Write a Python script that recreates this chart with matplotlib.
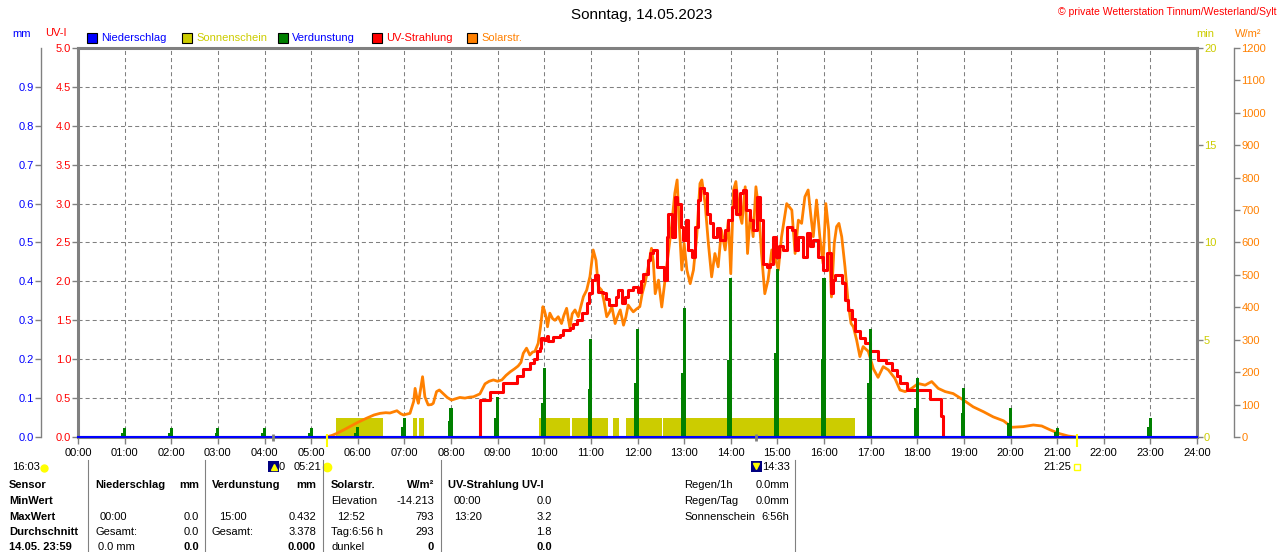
import numpy as np
import matplotlib
matplotlib.use('Agg')
import matplotlib.pyplot as plt
from matplotlib.lines import Line2D
from matplotlib.patches import Rectangle
from matplotlib.ticker import FormatStrFormatter

plt.rcParams['font.family'] = ['Liberation Sans', 'DejaVu Sans']
plt.rcParams['font.size'] = 8

# Solarstrahlung W/m2 (Zeit in Stunden)
solar_t = [5.33, 5.45, 5.55, 5.70, 5.83, 6.00, 6.19, 6.35, 6.48, 6.60, 6.69, 6.84, 6.92, 6.98,
           7.12, 7.20, 7.23, 7.27, 7.30, 7.36, 7.39, 7.42, 7.44, 7.51, 7.58, 7.62, 7.69, 7.75,
           7.83, 7.92, 8.01, 8.10, 8.19, 8.30, 8.40, 8.48, 8.62, 8.73, 8.82, 8.91, 9.00, 9.09,
           9.18, 9.27, 9.36, 9.44, 9.50, 9.55, 9.62, 9.69, 9.75, 9.80, 9.87, 9.92, 9.97, 10.00,
           10.04, 10.07, 10.12, 10.18, 10.23, 10.30, 10.37, 10.42, 10.48, 10.55, 10.60, 10.66,
           10.73, 10.78, 10.84, 10.91, 10.98, 11.05, 11.11, 11.16, 11.23, 11.28, 11.34, 11.40,
           11.45, 11.52, 11.58, 11.63, 11.70, 11.75, 11.80, 11.86, 11.91, 11.98, 12.05, 12.10,
           12.16, 12.23, 12.30, 12.34, 12.38, 12.45, 12.52, 12.59, 12.66, 12.73, 12.80, 12.85,
           12.89, 12.95, 13.00, 13.06, 13.13, 13.20, 13.27, 13.34, 13.38, 13.45, 13.52, 13.59,
           13.66, 13.73, 13.80, 13.88, 13.95, 14.00, 14.06, 14.11, 14.17, 14.24, 14.31, 14.36,
           14.42, 14.48, 14.54, 14.60, 14.66, 14.73, 14.80, 14.88, 14.95, 15.02, 15.09, 15.20,
           15.31, 15.38, 15.45, 15.52, 15.59, 15.66, 15.72, 15.77, 15.84, 15.91, 15.98, 16.04,
           16.10, 16.16, 16.22, 16.27, 16.32, 16.38, 16.45, 16.52, 16.58, 16.63, 16.70, 16.77,
           16.84, 16.95, 17.06, 17.16, 17.27, 17.38, 17.52, 17.63, 17.74, 17.88, 18.02, 18.17,
           18.31, 18.45, 18.60, 18.77, 18.99, 19.20, 19.42, 19.63, 19.85, 20.03, 20.27, 20.49,
           20.67, 20.85, 21.06, 21.24, 21.40]
solar_w = [0, 5, 11, 22, 32, 45, 58, 68, 73, 75, 74, 81, 72, 68,
           73, 110, 150, 120, 104, 160, 186, 150, 124, 99, 100, 104, 140, 145,
           134, 122, 114, 118, 122, 120, 123, 124, 133, 164, 172, 176, 172, 176,
           190, 201, 210, 219, 230, 258, 274, 253, 262, 264, 289, 340, 402, 392,
           370, 340, 382, 365, 360, 371, 350, 375, 397, 336, 380, 392,
           371, 400, 433, 453, 495, 577, 545, 464, 453, 420, 371, 385,
           402, 350, 375, 392, 345, 370, 407, 395, 386, 395, 402, 442,
           474, 525, 582, 540, 442, 484, 401, 484, 566, 649, 752, 793,
           669, 515, 597, 515, 473, 515, 618, 782, 793, 720, 597, 494,
           566, 525, 638, 577, 669, 504, 762, 788, 700, 659, 772, 566,
           690, 618, 772, 700, 566, 442, 484, 577, 556, 515, 618, 720,
           700, 566, 669, 659, 741, 762, 680, 618, 731, 618, 535, 720,
           638, 432, 597, 649, 659, 618, 525, 412, 350, 340, 299, 248,
           279, 264, 210, 184, 217, 207, 181, 145, 140, 150, 165, 160,
           171, 150, 140, 134, 114, 93, 78, 62, 50, 30, 32, 37,
           34, 22, 10, 3, 0]

# UV-Index
uv_t = [8.60, 8.62, 8.84, 9.12, 9.41, 9.55, 9.69, 9.78, 9.84, 9.90, 9.94, 10.00, 10.05, 10.09,
        10.19, 10.34, 10.41, 10.55, 10.62, 10.70, 10.80, 10.91, 10.96, 11.02, 11.09, 11.16,
        11.27, 11.33, 11.38, 11.53, 11.59, 11.66, 11.73, 11.80, 11.91, 12.02, 12.07, 12.12,
        12.23, 12.27, 12.34, 12.41, 12.57, 12.63, 12.66, 12.73, 12.80, 12.85, 12.93, 12.98,
        13.04, 13.09, 13.16, 13.23, 13.30, 13.35, 13.42, 13.48, 13.55, 13.63, 13.70, 13.77,
        13.88, 13.95, 14.02, 14.07, 14.12, 14.20, 14.27, 14.33, 14.41, 14.48, 14.56, 14.62,
        14.70, 14.77, 14.84, 14.91, 14.97, 15.04, 15.12, 15.20, 15.31, 15.38, 15.45, 15.54,
        15.63, 15.70, 15.77, 15.88, 15.98, 16.06, 16.14, 16.20, 16.24, 16.38, 16.45, 16.52,
        16.59, 16.66, 16.77, 16.88, 16.99, 17.16, 17.34, 17.45, 17.56, 17.63, 17.77, 18.27,
        18.52, 18.56]
uv_i = [0.0, 0.48, 0.58, 0.69, 0.78, 0.88, 0.95, 1.00, 1.10, 1.15, 1.27, 1.25, 1.30, 1.23,
        1.29, 1.31, 1.38, 1.40, 1.45, 1.50, 1.59, 1.72, 1.85, 2.02, 2.08, 1.87,
        1.85, 1.78, 1.70, 1.80, 1.89, 1.72, 1.80, 1.89, 1.93, 1.87, 2.00, 2.10,
        2.28, 2.36, 2.40, 2.19, 2.02, 2.57, 2.87, 2.57, 3.09, 3.00, 2.70, 2.53,
        2.79, 2.40, 2.32, 2.70, 3.05, 3.20, 3.13, 2.87, 2.75, 2.57, 2.68, 2.53,
        2.66, 2.79, 2.96, 3.17, 2.87, 3.13, 3.18, 2.92, 2.79, 2.66, 3.09, 2.79,
        2.23, 2.19, 2.23, 2.57, 2.32, 2.45, 2.40, 2.70, 2.66, 2.40, 2.57, 2.32,
        2.62, 2.45, 2.53, 2.32, 2.15, 2.36, 1.85, 2.02, 2.08, 1.98, 1.76, 1.63,
        1.52, 1.36, 1.27, 1.21, 1.10, 0.99, 0.95, 0.86, 0.78, 0.69, 0.60, 0.49,
        0.27, 0.0]

# Sonnenschein (min pro min), Intervalle
sun_start = [5.53, 7.19, 7.32, 9.89, 10.59, 11.48, 11.75, 12.55]
sun_end = [6.54, 7.28, 7.42, 10.55, 11.37, 11.61, 12.52, 16.66]
sun_min = [1.0, 1.0, 1.0, 1.0, 1.0, 1.0, 1.0, 1.0]

# Verdunstung mm je Stunde
evap_h = [1, 2, 3, 4, 5, 6, 7, 8, 9, 10, 11, 12, 13, 14, 15, 16, 17, 18, 19, 20, 21, 23]
evap_mm = [0.024, 0.024, 0.024, 0.024, 0.024, 0.025, 0.050, 0.075, 0.102, 0.177, 0.253,
           0.278, 0.331, 0.408, 0.432, 0.408, 0.278, 0.152, 0.127, 0.075, 0.024, 0.049]
evap_low = [0.011, 0.011, 0.011, 0.011, 0.011, 0.011, 0.025, 0.040, 0.050, 0.087, 0.123,
            0.138, 0.165, 0.198, 0.215, 0.200, 0.138, 0.075, 0.062, 0.035, 0.012, 0.025]

# Niederschlag
rain_t = [0, 24]
rain_mm = [0.0, 0.0]

hour_labels = ['%02d:00' % h for h in range(25)]
sun_marks = [5.35, 21.42]
moon_marks = [4.18, 14.55]

BLUE = '#0000ff'
YEL = '#cccc00'
GREEN = '#008000'
RED = '#ff0000'
ORANGE = '#ff8000'
GREY = '#808080'

W, H = 1280, 552
fig = plt.figure(figsize=(W / 100, H / 100), dpi=100)


def fx(x):
    return x / W


def fy(y):
    return 1 - y / H


ax = fig.add_axes([fx(78), fy(437), (1197 - 78) / W, (437 - 48) / H])
ax.set_xlim(0, 24)
ax.set_ylim(0, 5)
ax.set_xticks(range(25))
ax.set_xticklabels(hour_labels)
ax.set_yticks(np.arange(0, 5.01, 0.5))
ax.yaxis.set_major_formatter(FormatStrFormatter('%.1f'))
ax.tick_params(axis='x', direction='out', length=5, width=1, color=GREY, labelcolor='black', pad=3)
ax.tick_params(axis='y', direction='out', length=4, width=1, color=GREY, labelcolor=RED, pad=1)
for s in ax.spines.values():
    s.set_color(GREY)
    s.set_linewidth(2.2)
ax.grid(True, color=GREY, linewidth=0.75, linestyle=(0, (3.9, 2.9)))

# Sonnenschein-Achse (min)
ax_min = ax.twinx()
ax_min.set_ylim(0, 20)
ax_min.set_yticks([0, 5, 10, 15, 20])
ax_min.tick_params(axis='y', direction='out', length=4, width=1, color=GREY, labelcolor=YEL, pad=1)
for s in ax_min.spines.values():
    s.set_visible(False)
ax_min.bar(sun_start, sun_min, width=np.subtract(sun_end, sun_start), align='edge', color=YEL, linewidth=0)

# Solarstrahlung-Achse
ax_sol = ax.twinx()
ax_sol.set_ylim(0, 1200)
ax_sol.set_yticks(range(0, 1201, 100))
for s in ax_sol.spines.values():
    s.set_visible(False)
ax_sol.spines['right'].set_visible(True)
ax_sol.spines['right'].set_position(('outward', 26.9))
ax_sol.spines['right'].set_color(GREY)
ax_sol.spines['right'].set_linewidth(1)
ax_sol.tick_params(axis='y', direction='out', length=4, width=1, color=GREY, labelcolor=ORANGE, pad=1)
ax_sol.plot(solar_t, solar_w, color=ORANGE, linewidth=2.0)

# UV-Linie
ax_uv = ax.twinx()
ax_uv.set_ylim(0, 5)
ax_uv.set_yticks([])
for s in ax_uv.spines.values():
    s.set_visible(False)
ax_uv.plot(uv_t, uv_i, color=RED, linewidth=2.2, drawstyle='steps-post')

# mm-Achse (Niederschlag / Verdunstung)
ax_mm = ax.twinx()
ax_mm.set_ylim(0, 1.0)
ax_mm.yaxis.tick_left()
ax_mm.set_yticks(np.arange(0, 0.95, 0.1))
ax_mm.yaxis.set_major_formatter(FormatStrFormatter('%.1f'))
for s in ax_mm.spines.values():
    s.set_visible(False)
ax_mm.spines['left'].set_visible(True)
ax_mm.spines['left'].set_position(('outward', 26.6))
ax_mm.spines['left'].set_color(GREY)
ax_mm.spines['left'].set_linewidth(1)
ax_mm.tick_params(axis='y', direction='out', length=4, width=1, color=GREY, labelcolor=BLUE, pad=1)
ax_mm.bar(np.array(evap_h) - 0.02, evap_low, width=0.1, color=GREEN, linewidth=0)
ax_mm.bar(evap_h, evap_mm, width=0.065, color=GREEN, linewidth=0)
ax_mm.plot(rain_t, rain_mm, color=BLUE, linewidth=1.5, clip_on=False)
trans = ax_mm.get_xaxis_transform()
ax_mm.vlines(sun_marks, -0.026, 0.008, colors='#ffff00', linewidth=1.5, transform=trans, clip_on=False)
ax_mm.vlines(moon_marks, -0.01, 0.008, colors=GREY, linewidth=2, transform=trans, clip_on=False)

ax.set_zorder(0)
ax_min.set_zorder(1)
ax_sol.set_zorder(2)
ax_uv.set_zorder(3)
ax_mm.set_zorder(4)

# Titel und Kopfzeile
fig.text(fx(642), fy(15), 'Sonntag, 14.05.2023', ha='center', va='center', fontsize=11)
fig.text(fx(1277), fy(12), '© private Wetterstation Tinnum/Westerland/Sylt', ha='right', va='center',
         fontsize=7.5, color=RED)
fig.text(fx(22), fy(34), 'mm', ha='center', va='center', color=BLUE)
fig.text(fx(56), fy(33), 'UV-I', ha='center', va='center', color=RED)
fig.text(fx(1205), fy(34), 'min', ha='center', va='center', color=YEL)
fig.text(fx(1248), fy(34), 'W/m²', ha='center', va='center', color=ORANGE)

legend = [('Niederschlag', 87, BLUE, BLUE), ('Sonnenschein', 182, YEL, YEL),
          ('Verdunstung', 278, GREEN, BLUE), ('UV-Strahlung', 372, RED, RED),
          ('Solarstr.', 467, ORANGE, ORANGE)]
for name, x0, fc, tc in legend:
    fig.add_artist(Rectangle((fx(x0), fy(43)), 10 / W, 10 / H, facecolor=fc, edgecolor='black',
                             linewidth=0.8, transform=fig.transFigure))
    fig.text(fx(x0 + 14), fy(38), name, ha='left', va='center', color=tc)

# Zeilen unter der x-Achse (Sonne / Mond)
fig.text(fx(12), fy(467), '16:03', ha='left', va='center')
fig.add_artist(Line2D([fx(44)], [fy(468)], marker='o', markersize=5, color='#ffff00',
                      transform=fig.transFigure))
fig.add_artist(Rectangle((fx(268), fy(472)), 11 / W, 11 / H, facecolor='#000080', linewidth=0,
                         transform=fig.transFigure))
fig.add_artist(Line2D([fx(274)], [fy(467)], marker='^', markersize=4, color='#ffff00',
                      transform=fig.transFigure))
fig.text(fx(279), fy(467), '0', ha='left', va='center')
fig.text(fx(294), fy(467), '05:21', ha='left', va='center')
fig.add_artist(Line2D([fx(327)], [fy(467)], marker='o', markersize=6, color='#ffff00',
                      transform=fig.transFigure))
fig.add_artist(Rectangle((fx(751), fy(472)), 11 / W, 11 / H, facecolor='#000080', linewidth=0,
                         transform=fig.transFigure))
fig.add_artist(Line2D([fx(756)], [fy(466)], marker='v', markersize=4, color='#ffff00',
                      transform=fig.transFigure))
fig.text(fx(762), fy(467), '14:33', ha='left', va='center')
fig.text(fx(1071), fy(467), '21:25', ha='right', va='center')
fig.add_artist(Line2D([fx(1077)], [fy(467)], marker='s', markersize=4, markerfacecolor='none',
                      markeredgecolor='#ffff00', transform=fig.transFigure))

# Tabelle
for xl in [88, 205, 323, 441, 795]:
    fig.add_artist(Line2D([fx(xl), fx(xl)], [fy(460), fy(552)], color=GREY, linewidth=0.8,
                          transform=fig.transFigure))

rows = [485, 501, 516.5, 532, 547.5]
cells = [
    # (x, row, text, ha, bold)
    (9, 0, 'Sensor', 'left', True), (9, 1, 'MinWert', 'left', True), (9, 2, 'MaxWert', 'left', True),
    (9, 3, 'Durchschnitt', 'left', True), (9, 4, '14.05. 23:59', 'left', True),
    (95, 0, 'Niederschlag', 'left', True), (199, 0, 'mm', 'right', True),
    (100, 2, '00:00', 'left', False), (199, 2, '0.0', 'right', False),
    (95, 3, 'Gesamt:', 'left', False), (199, 3, '0.0', 'right', False),
    (98, 4, '0.0 mm', 'left', False), (199, 4, '0.0', 'right', True),
    (212, 0, 'Verdunstung', 'left', True), (316, 0, 'mm', 'right', True),
    (219, 2, '15:00', 'left', False), (316, 2, '0.432', 'right', False),
    (212, 3, 'Gesamt:', 'left', False), (316, 3, '3.378', 'right', False),
    (316, 4, '0.000', 'right', True),
    (331, 0, 'Solarstr.', 'left', True), (434, 0, 'W/m²', 'right', True),
    (331, 1, 'Elevation', 'left', False), (434, 1, '-14.213', 'right', False),
    (337, 2, '12:52', 'left', False), (434, 2, '793', 'right', False),
    (331, 3, 'Tag:6:56 h', 'left', False), (434, 3, '293', 'right', False),
    (331, 4, 'dunkel', 'left', False), (434, 4, '0', 'right', True),
    (448, 0, 'UV-Strahlung UV-I', 'left', True),
    (454, 1, '00:00', 'left', False), (552, 1, '0.0', 'right', False),
    (454, 2, '13:20', 'left', False), (552, 2, '3.2', 'right', False),
    (552, 3, '1.8', 'right', False), (552, 4, '0.0', 'right', True),
    (684, 0, 'Regen/1h', 'left', False), (789, 0, '0.0mm', 'right', False),
    (684, 1, 'Regen/Tag', 'left', False), (789, 1, '0.0mm', 'right', False),
    (684, 2, 'Sonnenschein', 'left', False), (789, 2, '6:56h', 'right', False),
]
for x, r, txt, ha, bold in cells:
    fig.text(fx(x), fy(rows[r]), txt, ha=ha, va='center', fontweight='bold' if bold else 'normal')

fig.savefig('out.png', dpi=100)
